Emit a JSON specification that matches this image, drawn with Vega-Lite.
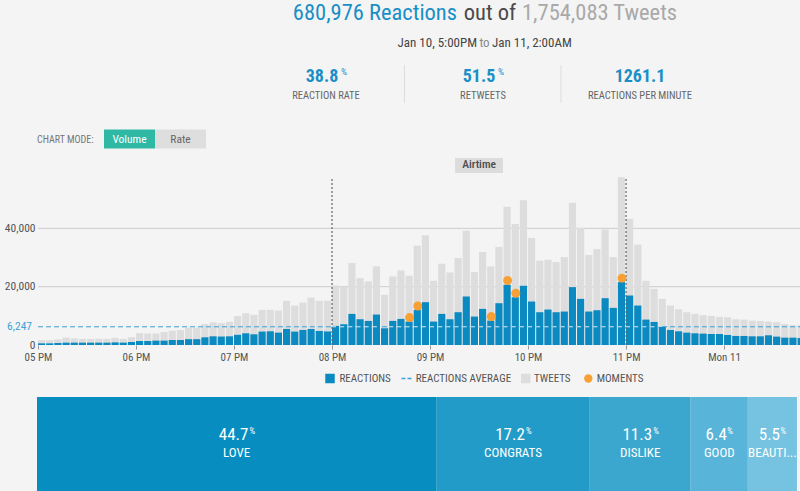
{
"$schema": "https://vega.github.io/schema/vega-lite/v6.json",
"width": 800, "height": 491, "padding": 0, "autosize": {"type": "none"},
"background": "#f4f4f4",
"config": {"view": {"stroke": null}, "font": "Roboto Condensed, Liberation Sans Narrow, DejaVu Sans Condensed, Roboto, sans-serif"},
"datasets": {
"one": [{"k": 1}],
"series": [
{"t":"2016-01-10T17:00:00","r":570,"tw":1650},{"t":"2016-01-10T17:05:00","r":570,"tw":1650},{"t":"2016-01-10T17:10:00","r":690,"tw":1950},{"t":"2016-01-10T17:15:00","r":800,"tw":2550},{"t":"2016-01-10T17:20:00","r":800,"tw":2300},{"t":"2016-01-10T17:25:00","r":800,"tw":2100},{"t":"2016-01-10T17:30:00","r":800,"tw":2100},{"t":"2016-01-10T17:35:00","r":800,"tw":2150},{"t":"2016-01-10T17:40:00","r":800,"tw":2100},{"t":"2016-01-10T17:45:00","r":900,"tw":2450},{"t":"2016-01-10T17:50:00","r":800,"tw":2100},{"t":"2016-01-10T17:55:00","r":1030,"tw":2700},
{"t":"2016-01-10T18:00:00","r":1380,"tw":4100},{"t":"2016-01-10T18:05:00","r":1380,"tw":3950},{"t":"2016-01-10T18:10:00","r":1500,"tw":3950},{"t":"2016-01-10T18:15:00","r":1500,"tw":4450},{"t":"2016-01-10T18:20:00","r":1720,"tw":4900},{"t":"2016-01-10T18:25:00","r":1720,"tw":5150},{"t":"2016-01-10T18:30:00","r":2000,"tw":5900},{"t":"2016-01-10T18:35:00","r":2000,"tw":5900},{"t":"2016-01-10T18:40:00","r":2640,"tw":7200},{"t":"2016-01-10T18:45:00","r":2980,"tw":7780},{"t":"2016-01-10T18:50:00","r":2900,"tw":7500},{"t":"2016-01-10T18:55:00","r":2980,"tw":7950},
{"t":"2016-01-10T19:00:00","r":3500,"tw":9950},{"t":"2016-01-10T19:05:00","r":4010,"tw":10890},{"t":"2016-01-10T19:10:00","r":3670,"tw":10320},{"t":"2016-01-10T19:15:00","r":4600,"tw":12040},{"t":"2016-01-10T19:20:00","r":4700,"tw":12040},{"t":"2016-01-10T19:25:00","r":4240,"tw":11810},{"t":"2016-01-10T19:30:00","r":5500,"tw":15140},{"t":"2016-01-10T19:35:00","r":4590,"tw":13530},{"t":"2016-01-10T19:40:00","r":5160,"tw":14560},{"t":"2016-01-10T19:45:00","r":5500,"tw":16280},{"t":"2016-01-10T19:50:00","r":4820,"tw":15140},{"t":"2016-01-10T19:55:00","r":4650,"tw":15200},
{"t":"2016-01-10T20:00:00","r":6540,"tw":20410},{"t":"2016-01-10T20:05:00","r":7110,"tw":20070},{"t":"2016-01-10T20:10:00","r":10660,"tw":28090},{"t":"2016-01-10T20:15:00","r":8830,"tw":22930},{"t":"2016-01-10T20:20:00","r":8260,"tw":21790},{"t":"2016-01-10T20:25:00","r":10430,"tw":26950},{"t":"2016-01-10T20:30:00","r":5730,"tw":17200},{"t":"2016-01-10T20:35:00","r":8260,"tw":23500},{"t":"2016-01-10T20:40:00","r":8940,"tw":25570},{"t":"2016-01-10T20:45:00","r":8030,"tw":23740},{"t":"2016-01-10T20:50:00","r":12040,"tw":34060},{"t":"2016-01-10T20:55:00","r":14680,"tw":37610},
{"t":"2016-01-10T21:00:00","r":8030,"tw":22020},{"t":"2016-01-10T21:05:00","r":10660,"tw":27860},{"t":"2016-01-10T21:10:00","r":8830,"tw":24880},{"t":"2016-01-10T21:15:00","r":11240,"tw":29810},{"t":"2016-01-10T21:20:00","r":16630,"tw":39220},{"t":"2016-01-10T21:25:00","r":9750,"tw":25000},{"t":"2016-01-10T21:30:00","r":12380,"tw":31880},{"t":"2016-01-10T21:35:00","r":8380,"tw":26950},{"t":"2016-01-10T21:40:00","r":14330,"tw":33600},{"t":"2016-01-10T21:45:00","r":20640,"tw":47360},{"t":"2016-01-10T21:50:00","r":16400,"tw":41510},{"t":"2016-01-10T21:55:00","r":20300,"tw":49650},
{"t":"2016-01-10T22:00:00","r":14910,"tw":36700},{"t":"2016-01-10T22:05:00","r":11240,"tw":28900},{"t":"2016-01-10T22:10:00","r":12150,"tw":29240},{"t":"2016-01-10T22:15:00","r":11240,"tw":28440},{"t":"2016-01-10T22:20:00","r":11470,"tw":30160},{"t":"2016-01-10T22:25:00","r":19840,"tw":48730},{"t":"2016-01-10T22:30:00","r":15820,"tw":40130},{"t":"2016-01-10T22:35:00","r":11470,"tw":30840},{"t":"2016-01-10T22:40:00","r":11930,"tw":32900},{"t":"2016-01-10T22:45:00","r":16050,"tw":39560},{"t":"2016-01-10T22:50:00","r":12730,"tw":30160},{"t":"2016-01-10T22:55:00","r":21560,"tw":57500},
{"t":"2016-01-10T23:00:00","r":16970,"tw":43230},{"t":"2016-01-10T23:05:00","r":13530,"tw":34400},{"t":"2016-01-10T23:10:00","r":8710,"tw":22020},{"t":"2016-01-10T23:15:00","r":7910,"tw":19260},{"t":"2016-01-10T23:20:00","r":6190,"tw":15820},{"t":"2016-01-10T23:25:00","r":5160,"tw":13530},{"t":"2016-01-10T23:30:00","r":4700,"tw":12270},{"t":"2016-01-10T23:35:00","r":4240,"tw":11240},{"t":"2016-01-10T23:40:00","r":4010,"tw":10660},{"t":"2016-01-10T23:45:00","r":3900,"tw":10200},{"t":"2016-01-10T23:50:00","r":3780,"tw":9980},{"t":"2016-01-10T23:55:00","r":3780,"tw":9630},
{"t":"2016-01-11T00:00:00","r":3440,"tw":9520},{"t":"2016-01-11T00:05:00","r":3100,"tw":8830},{"t":"2016-01-11T00:10:00","r":3100,"tw":8720},{"t":"2016-01-11T00:15:00","r":2980,"tw":8370},{"t":"2016-01-11T00:20:00","r":2980,"tw":8260},{"t":"2016-01-11T00:25:00","r":3330,"tw":8030},{"t":"2016-01-11T00:30:00","r":2870,"tw":7800},{"t":"2016-01-11T00:35:00","r":2520,"tw":7220},{"t":"2016-01-11T00:40:00","r":2520,"tw":6770},{"t":"2016-01-11T00:45:00","r":2400,"tw":6770}
],
"moments": [
{"t":"2016-01-10T20:45:00","v":9400},{"t":"2016-01-10T20:50:00","v":13380},{"t":"2016-01-10T21:35:00","v":9750},{"t":"2016-01-10T21:45:00","v":22130},{"t":"2016-01-10T21:50:00","v":17770},{"t":"2016-01-10T22:55:00","v":22930}
],
"stats": [
{"stat":"REACTION RATE","val":"38.8","unit":"%"},{"stat":"RETWEETS","val":"51.5","unit":"%"},{"stat":"REACTIONS PER MINUTE","val":"1261.1","unit":""}
],
"reactions": [
{"cat":"LOVE","pct":44.7},{"cat":"CONGRATS","pct":17.2},{"cat":"DISLIKE","pct":11.3},{"cat":"GOOD","pct":6.4},{"cat":"BEAUTI...","pct":5.5}
]
},
"resolve": {"scale": {"x": "independent", "y": "independent", "color": "independent"}},
"layer": [
{"data": {"name": "one"}, "mark": {"type": "text", "text": "680,976 Reactions", "align": "right", "baseline": "alphabetic", "fontSize": 22.5, "color": "#1a8fc6"}, "encoding": {"x": {"value": 457}, "y": {"value": 19.5}}},
{"data": {"name": "one"}, "mark": {"type": "text", "text": "out of", "align": "center", "baseline": "alphabetic", "fontSize": 22.5, "color": "#4a4a4a"}, "encoding": {"x": {"value": 490}, "y": {"value": 19.5}}},
{"data": {"name": "one"}, "mark": {"type": "text", "text": "1,754,083 Tweets", "align": "left", "baseline": "alphabetic", "fontSize": 22.5, "color": "#a9a9a9"}, "encoding": {"x": {"value": 522}, "y": {"value": 19.5}}},
{"data": {"name": "one"}, "mark": {"type": "text", "text": "Jan 10, 5:00PM", "align": "right", "baseline": "alphabetic", "fontSize": 13, "color": "#444444"}, "encoding": {"x": {"value": 477}, "y": {"value": 46.5}}},
{"data": {"name": "one"}, "mark": {"type": "text", "text": "to", "align": "center", "baseline": "alphabetic", "fontSize": 13, "color": "#888888"}, "encoding": {"x": {"value": 484.5}, "y": {"value": 46.5}}},
{"data": {"name": "one"}, "mark": {"type": "text", "text": "Jan 11, 2:00AM", "align": "left", "baseline": "alphabetic", "fontSize": 13, "color": "#444444"}, "encoding": {"x": {"value": 492}, "y": {"value": 46.5}}},
{"data": {"name": "stats"}, "transform": [{"filter": "datum.unit == '%'"}], "mark": {"type": "text", "fontSize": 18, "fontWeight": "bold", "color": "#1a8fc6", "baseline": "alphabetic", "dx": -4}, "encoding": {"x": {"field": "stat", "type": "nominal", "scale": {"type": "point", "domain": ["REACTION RATE", "RETWEETS", "REACTIONS PER MINUTE"], "range": [326, 640], "padding": 0}, "axis": null}, "y": {"value": 82}, "text": {"field": "val"}}},
{"data": {"name": "stats"}, "transform": [{"filter": "datum.unit == ''"}], "mark": {"type": "text", "fontSize": 18, "fontWeight": "bold", "color": "#1a8fc6", "baseline": "alphabetic"}, "encoding": {"x": {"field": "stat", "type": "nominal", "scale": {"type": "point", "domain": ["REACTION RATE", "RETWEETS", "REACTIONS PER MINUTE"], "range": [326, 640], "padding": 0}, "axis": null}, "y": {"value": 82}, "text": {"field": "val"}}},
{"data": {"name": "stats"}, "transform": [{"filter": "datum.unit == '%'"}], "mark": {"type": "text", "fontSize": 9.5, "color": "#1a8fc6", "baseline": "alphabetic", "align": "left", "dx": 15}, "encoding": {"x": {"field": "stat", "type": "nominal", "scale": {"type": "point", "domain": ["REACTION RATE", "RETWEETS", "REACTIONS PER MINUTE"], "range": [326, 640], "padding": 0}, "axis": null}, "y": {"value": 74.5}, "text": {"field": "unit"}}},
{"data": {"name": "stats"}, "mark": {"type": "text", "fontSize": 10.5, "color": "#666666", "baseline": "alphabetic"}, "encoding": {"x": {"field": "stat", "type": "nominal", "scale": {"type": "point", "domain": ["REACTION RATE", "RETWEETS", "REACTIONS PER MINUTE"], "range": [326, 640], "padding": 0}, "axis": null}, "y": {"value": 99}, "text": {"field": "stat"}}},
{"data": {"name": "one"}, "mark": {"type": "rule", "color": "#dddddd"}, "encoding": {"x": {"value": 404.5}, "y": {"value": 65}, "y2": {"value": 103}}},
{"data": {"name": "one"}, "mark": {"type": "rule", "color": "#dddddd"}, "encoding": {"x": {"value": 561}, "y": {"value": 65}, "y2": {"value": 103}}},
{"data": {"name": "one"}, "mark": {"type": "text", "text": "CHART MODE:", "align": "left", "baseline": "alphabetic", "fontSize": 10, "color": "#777777"}, "encoding": {"x": {"value": 37}, "y": {"value": 142.5}}},
{"data": {"name": "one"}, "mark": {"type": "rect", "color": "#2fb9a5"}, "encoding": {"x": {"value": 104}, "x2": {"value": 155}, "y": {"value": 129.5}, "y2": {"value": 148.5}}},
{"data": {"name": "one"}, "mark": {"type": "rect", "color": "#dedede"}, "encoding": {"x": {"value": 155}, "x2": {"value": 206}, "y": {"value": 129.5}, "y2": {"value": 148.5}}},
{"data": {"name": "one"}, "mark": {"type": "text", "text": "Volume", "align": "center", "baseline": "alphabetic", "fontSize": 11.5, "color": "#ffffff"}, "encoding": {"x": {"value": 129.5}, "y": {"value": 143.3}}},
{"data": {"name": "one"}, "mark": {"type": "text", "text": "Rate", "align": "center", "baseline": "alphabetic", "fontSize": 11.5, "color": "#666666"}, "encoding": {"x": {"value": 180.5}, "y": {"value": 143.3}}},
{
"data": {"name": "series"},
"transform": [{"calculate": "time(datum.t) + 300000", "as": "te"}],
"layer": [
{"data": {"values": [{"g": 20000}, {"g": 40000}]}, "mark": {"type": "rule", "color": "#cccccc", "strokeWidth": 1},
 "encoding": {
  "x": {"datum": {"year": 2016, "month": 1, "date": 10, "hours": 17}, "type": "temporal", "scale": {"domain": [{"year": 2016, "month": 1, "date": 10, "hours": 17}, {"year": 2016, "month": 1, "date": 11, "hours": 0, "minutes": 46, "seconds": 30}], "range": [38, 800]},
   "axis": {"title": null, "offset": -146, "domain": false, "grid": false, "tickCount": 8, "labelFontSize": 11, "labelColor": "#555555", "tickColor": "#999999", "tickSize": 4, "labelPadding": 2, "labelFlush": false, "labelOverlap": false}},
  "x2": {"datum": {"year": 2016, "month": 1, "date": 11, "hours": 0, "minutes": 46, "seconds": 30}},
  "y": {"field": "g", "type": "quantitative", "scale": {"domain": [0, 57600], "range": [345, 177], "nice": false, "zero": true},
   "axis": {"title": null, "offset": -38, "values": [0, 20000, 40000], "format": ",d", "domain": false, "ticks": false, "grid": false, "labelFontSize": 11.5, "labelColor": "#555555", "labelPadding": 3}}
 }},
{"mark": {"type": "bar", "color": "#dddddd", "x2Offset": -1},
 "encoding": {
  "x": {"field": "t", "type": "temporal"},
  "x2": {"field": "te"},
  "y": {"field": "tw", "type": "quantitative"},
  "y2": {"datum": 0}
 }},
{"data": {"name": "one"}, "mark": {"type": "rule", "color": "#3ba3d6", "strokeDash": [5, 3], "strokeWidth": 1},
 "encoding": {
  "x": {"datum": {"year": 2016, "month": 1, "date": 10, "hours": 17}, "type": "temporal"},
  "x2": {"datum": {"year": 2016, "month": 1, "date": 11, "hours": 0, "minutes": 46, "seconds": 30}},
  "y": {"datum": 6247, "type": "quantitative"}
 }},
{"mark": {"type": "bar", "color": "#0b8ac1", "x2Offset": -1},
 "encoding": {
  "x": {"field": "t", "type": "temporal"},
  "x2": {"field": "te"},
  "y": {"field": "r", "type": "quantitative"},
  "y2": {"datum": 0}
 }},
{"transform": [{"filter": "datum.r > 6247"}], "mark": {"type": "rule", "color": "#dcebf4", "strokeDash": [4, 3], "strokeWidth": 1},
 "encoding": {
  "x": {"field": "t", "type": "temporal"},
  "x2": {"field": "te"},
  "y": {"datum": 6247, "type": "quantitative"}
 }},
{"data": {"values": [{"a": "2016-01-10T20:00:00"}, {"a": "2016-01-10T23:00:00"}]}, "mark": {"type": "rule", "color": "#666666", "strokeDash": [2, 2], "strokeWidth": 1.2},
 "encoding": {
  "x": {"field": "a", "type": "temporal"},
  "y": {"datum": 0, "type": "quantitative"},
  "y2": {"datum": 57600}
 }},
{"data": {"name": "moments"}, "transform": [{"calculate": "time(datum.t) + 150000", "as": "tm"}], "mark": {"type": "circle", "color": "#f8a034", "opacity": 1, "size": 80},
 "encoding": {
  "x": {"field": "tm", "type": "temporal"},
  "y": {"field": "v", "type": "quantitative"}
 }},
{"data": {"name": "one"}, "mark": {"type": "text", "text": "6,247", "align": "right", "baseline": "middle", "fontSize": 11.5, "color": "#3ba3d6", "dx": -6},
 "encoding": {
  "x": {"datum": {"year": 2016, "month": 1, "date": 10, "hours": 17}, "type": "temporal"},
  "y": {"datum": 6247, "type": "quantitative"}
 }},
{"data": {"name": "one"}, "mark": {"type": "rect", "color": "#dcdcdc"},
 "encoding": {
  "x": {"datum": {"year": 2016, "month": 1, "date": 10, "hours": 21, "minutes": 15, "seconds": 20}, "type": "temporal"},
  "x2": {"datum": {"year": 2016, "month": 1, "date": 10, "hours": 21, "minutes": 44, "seconds": 40}},
  "y": {"datum": 59000, "type": "quantitative"},
  "y2": {"datum": 64100}
 }},
{"data": {"name": "one"}, "mark": {"type": "text", "text": "Airtime", "align": "center", "baseline": "middle", "fontSize": 11.5, "fontWeight": 500, "color": "#4a4a4a"},
 "encoding": {
  "x": {"datum": {"year": 2016, "month": 1, "date": 10, "hours": 21, "minutes": 30}, "type": "temporal"},
  "y": {"datum": 61550, "type": "quantitative"}
 }}
]
},
{"data": {"name": "one"}, "mark": {"type": "square", "color": "#0b8ac1", "opacity": 1, "size": 90}, "encoding": {"x": {"value": 330}, "y": {"value": 378.5}}},
{"data": {"name": "one"}, "mark": {"type": "rule", "color": "#3ba3d6", "strokeDash": [4, 2], "strokeWidth": 1.5}, "encoding": {"x": {"value": 401.5}, "x2": {"value": 411.5}, "y": {"value": 378.5}}},
{"data": {"name": "one"}, "mark": {"type": "square", "color": "#dddddd", "opacity": 1, "size": 90}, "encoding": {"x": {"value": 525.7}, "y": {"value": 378.5}}},
{"data": {"name": "one"}, "mark": {"type": "circle", "color": "#f8a034", "opacity": 1, "size": 70}, "encoding": {"x": {"value": 588.3}, "y": {"value": 378.5}}},
{"data": {"name": "one"}, "mark": {"type": "text", "text": "REACTIONS", "align": "left", "baseline": "middle", "fontSize": 11, "color": "#555555"}, "encoding": {"x": {"value": 339.5}, "y": {"value": 379}}},
{"data": {"name": "one"}, "mark": {"type": "text", "text": "REACTIONS AVERAGE", "align": "left", "baseline": "middle", "fontSize": 11, "color": "#555555"}, "encoding": {"x": {"value": 415.7}, "y": {"value": 379}}},
{"data": {"name": "one"}, "mark": {"type": "text", "text": "TWEETS", "align": "left", "baseline": "middle", "fontSize": 11, "color": "#555555"}, "encoding": {"x": {"value": 534}, "y": {"value": 379}}},
{"data": {"name": "one"}, "mark": {"type": "text", "text": "MOMENTS", "align": "left", "baseline": "middle", "fontSize": 11, "color": "#555555"}, "encoding": {"x": {"value": 596.7}, "y": {"value": 379}}},
{
"data": {"name": "reactions"},
"transform": [{"stack": "pct", "groupby": [], "sort": [{"field": "pct", "order": "descending"}], "as": ["x0", "x1"]}, {"calculate": "(datum.x0 + datum.x1) / 2", "as": "xm"}],
"layer": [
{"mark": {"type": "rect"},
 "encoding": {
  "x": {"field": "x0", "type": "quantitative", "scale": {"domain": [0, 100], "range": [37, 930]}, "axis": null},
  "x2": {"field": "x1"},
  "y": {"value": 397}, "y2": {"value": 500},
  "color": {"field": "cat", "type": "nominal", "scale": {"domain": ["LOVE", "CONGRATS", "DISLIKE", "GOOD", "BEAUTI..."], "range": ["#078dbf", "#229bc8", "#3ba7cf", "#58b4d9", "#76c2e1"]}, "legend": null}
 }},
{"mark": {"type": "text", "align": "center", "baseline": "alphabetic", "fontSize": 17, "color": "#ffffff", "dx": -3},
 "encoding": {"x": {"field": "xm", "type": "quantitative"}, "y": {"value": 439.5}, "text": {"field": "pct", "type": "quantitative", "format": ".1f"}}},
{"transform": [{"filter": "length(format(datum.pct, '.1f')) == 4"}], "mark": {"type": "text", "text": "%", "align": "left", "baseline": "alphabetic", "fontSize": 9, "color": "#ffffff", "dx": 13},
 "encoding": {"x": {"field": "xm", "type": "quantitative"}, "y": {"value": 433.5}}},
{"transform": [{"filter": "length(format(datum.pct, '.1f')) == 3"}], "mark": {"type": "text", "text": "%", "align": "left", "baseline": "alphabetic", "fontSize": 9, "color": "#ffffff", "dx": 8},
 "encoding": {"x": {"field": "xm", "type": "quantitative"}, "y": {"value": 433.5}}},
{"mark": {"type": "text", "align": "center", "baseline": "alphabetic", "fontSize": 13, "color": "#ffffff"},
 "encoding": {"x": {"field": "xm", "type": "quantitative"}, "y": {"value": 457}, "text": {"field": "cat"}}}
]
}
]
}
